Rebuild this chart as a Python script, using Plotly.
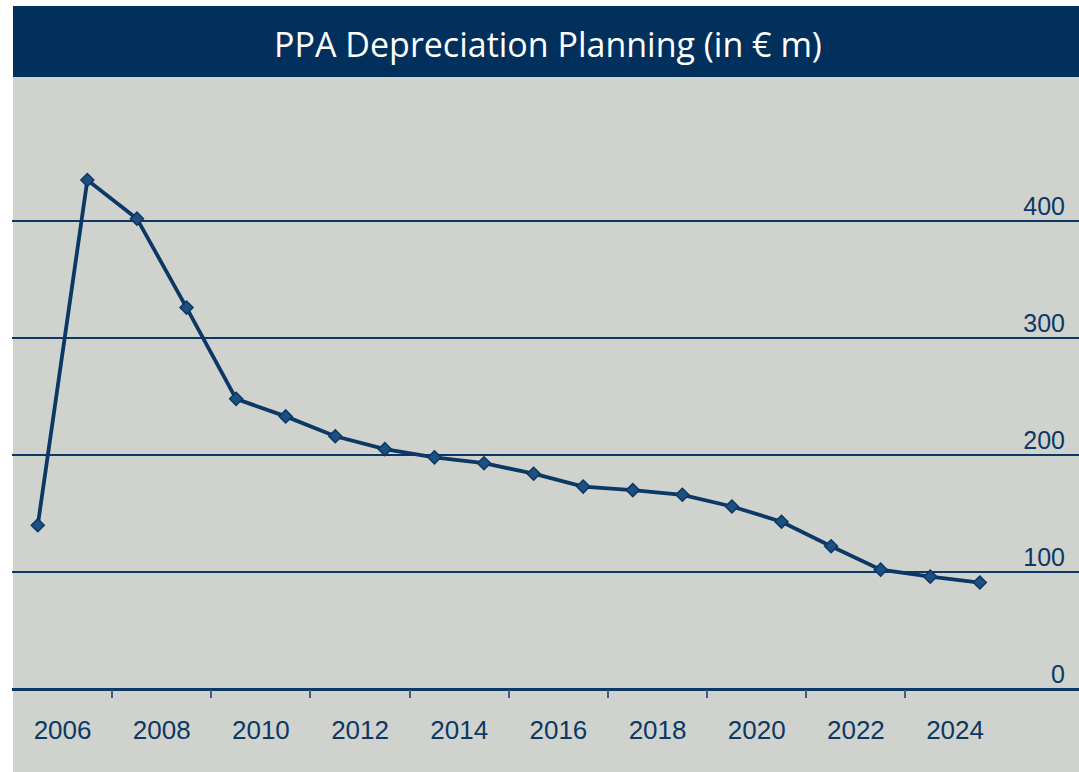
import plotly.graph_objects as go

# PPA depreciation by period (EUR m); periods sit half a year off the year labels
periods = [2005.5, 2006.5, 2007.5, 2008.5, 2009.5, 2010.5, 2011.5, 2012.5, 2013.5, 2014.5,
           2015.5, 2016.5, 2017.5, 2018.5, 2019.5, 2020.5, 2021.5, 2022.5, 2023.5, 2024.5]
depreciation = [140, 435, 402, 326, 248, 233, 216, 205, 198, 193,
                184, 173, 170, 166, 156, 143, 122, 102, 96, 91]

year_labels = [2006, 2008, 2010, 2012, 2014, 2016, 2018, 2020, 2022, 2024]
year_ticks = [2007, 2009, 2011, 2013, 2015, 2017, 2019, 2021, 2023]
value_ticks = [0, 100, 200, 300, 400]

W, H = 1079, 772
L, R, T, B = 12, 0, 78, 83
PW, PH = W - L - R, H - T - B

NAVY = "#00305b"
INK = "#0b3864"
GRAY = "#d0d3cd"


def px_x(px):
    return (px - L) / PW


def px_y(py):
    return (H - B - py) / PH


fig = go.Figure()
fig.add_trace(go.Scatter(
    x=periods, y=depreciation, mode="lines+markers",
    line=dict(color=INK, width=3.8),
    marker=dict(symbol="diamond", size=10, color="#1d4f80",
                line=dict(color=INK, width=1.5)),
    hoverinfo="x+y", showlegend=False,
))

shapes = [
    # white frame strips on the left and top
    dict(type="rect", xref="paper", yref="paper", x0=px_x(0), x1=px_x(13),
         y0=px_y(H), y1=px_y(0), fillcolor="white", line_width=0, layer="below"),
    dict(type="rect", xref="paper", yref="paper", x0=px_x(0), x1=px_x(W),
         y0=px_y(6), y1=px_y(0), fillcolor="white", line_width=0, layer="below"),
    # title banner
    dict(type="rect", xref="paper", yref="paper", x0=px_x(13), x1=px_x(W),
         y0=px_y(77), y1=px_y(6), fillcolor=NAVY, line_width=0, layer="below"),
]

fig.update_layout(
    width=W, height=H,
    margin=dict(l=L, r=R, t=T, b=B, pad=0),
    paper_bgcolor=GRAY, plot_bgcolor=GRAY,
    shapes=shapes,
    title=dict(text="PPA Depreciation Planning (in € m)",
               x=548 / W, xanchor="center", y=1 - 45 / H, yanchor="middle",
               font=dict(family="Open Sans", size=34, color="white")),
    xaxis=dict(
        range=[2004.98, 2026.5],
        tickmode="array", tickvals=year_labels,
        ticktext=[str(v) for v in year_labels],
        ticks="", showgrid=False, zeroline=False,
        showline=False,
        tickfont=dict(family="Liberation Sans, Arial", size=26, color=INK),
        ticklabelstandoff=23,
        minor=dict(tickmode="array", tickvals=year_ticks, ticks="outside",
                   ticklen=8, tickwidth=1.5, tickcolor="#3d5f80", showgrid=False),
    ),
    yaxis=dict(
        range=[0, (H - B - T) / 1.17],
        tickmode="array", tickvals=value_ticks,
        side="right", ticklabelposition="inside",
        showgrid=True, gridcolor=INK, gridwidth=1.8,
        zeroline=True, zerolinecolor=INK, zerolinewidth=2.5,
        ticks="", showline=False,
        tickfont=dict(family="Liberation Sans, Arial", size=25, color=INK),
        ticklabelshift=-15, ticklabelstandoff=11,
    ),
)

fig.write_html("out.html")
